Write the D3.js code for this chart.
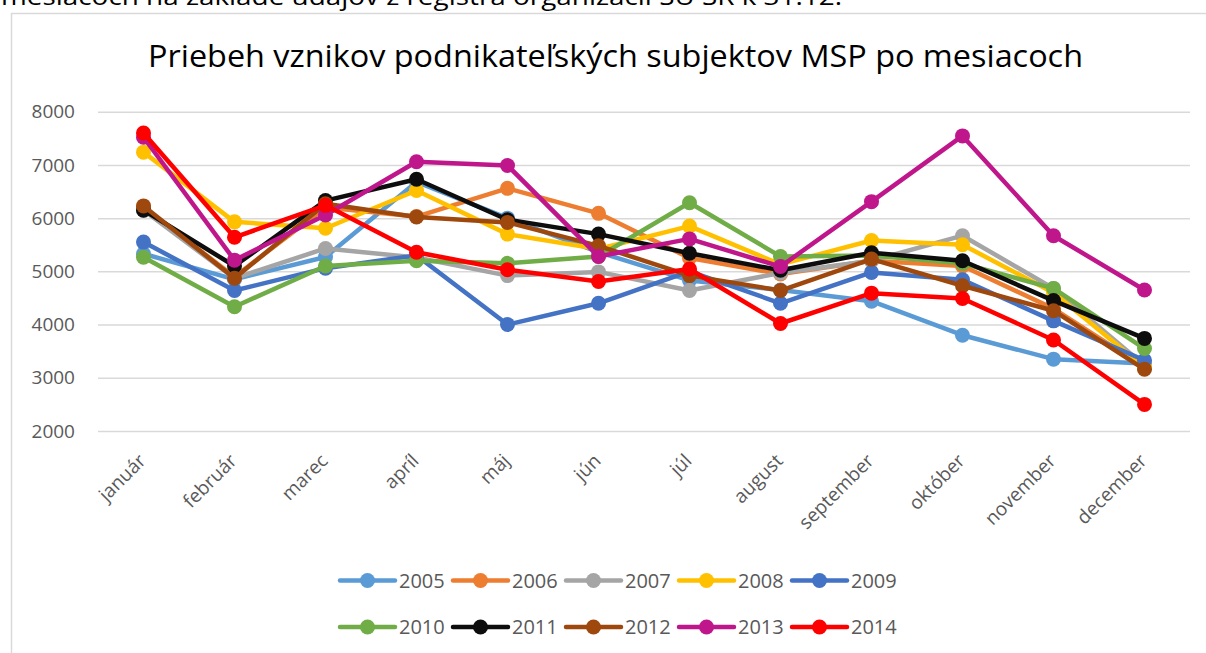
<!DOCTYPE html>
<html><head><meta charset="utf-8">
<script src="https://cdn.jsdelivr.net/npm/d3@7"></script>
<style>
html,body{margin:0;padding:0;background:#fff;overflow:hidden;}
svg{display:block;}
</style></head>
<body>
<svg id="chart" width="1206" height="653"></svg>
<script>
const months = ["január","február","marec","apríl","máj","jún","júl","august","september","október","november","december"];
const years = ["2005","2006","2007","2008","2009","2010","2011","2012","2013","2014"];
const yTicks = [2000,3000,4000,5000,6000,7000,8000];
const colors = ["#5B9BD5","#ED7D31","#A5A5A5","#FFC000","#4472C4","#70AD47","#0D0D0D","#9E480E","#C0168C","#FF0000"];

const s2005 = [5330,4850,5270,6680,6000,5360,4830,4650,4440,3800,3350,3270];
const s2006 = [6200,4900,6200,6030,6560,6090,5250,4950,5200,5100,4300,3200];
const s2007 = [6150,4870,5430,5260,4920,4990,4640,4970,5200,5670,4680,3230];
const s2008 = [7240,5930,5810,6520,5700,5420,5850,5130,5580,5500,4600,3200];
const s2009 = [5550,4640,5060,5300,4000,4400,5000,4400,4980,4840,4070,3330];
const s2010 = [5265,4336,5100,5200,5150,5280,6290,5280,5300,5150,4680,3550];
const s2011 = [6150,5100,6330,6730,5970,5700,5340,5020,5350,5200,4450,3740];
const s2012 = [6230,4870,6270,6020,5920,5480,4920,4640,5230,4730,4260,3160];
const s2013 = [7520,5210,6060,7060,6990,5280,5610,5090,6310,7545,5670,4650];
const s2014 = [7600,5640,6240,5360,5030,4810,5045,4020,4590,4490,3710,2500];
const seriesValues = [s2005,s2006,s2007,s2008,s2009,s2010,s2011,s2012,s2013,s2014];

const title = "Priebeh vznikov podnikateľských subjektov MSP po mesiacoch";
const aboveText = "mesiacoch na základe údajov z registra organizácií ŠÚ SR k 31.12.";

const svg = d3.select("#chart");
const font = "'Open Sans', 'DejaVu Sans', sans-serif";

svg.append("text").attr("x",1).attr("y",5).attr("font-family",font).attr("font-size",24)
  .attr("fill","#000").attr("textLength",841).attr("lengthAdjust","spacingAndGlyphs").text(aboveText);

svg.append("rect").attr("x",11.5).attr("y",13.5).attr("width",1200).attr("height",700)
  .attr("fill","#fff").attr("stroke","#D9D9D9").attr("stroke-width",1.5);

const plotL = 98, plotR = 1190, plotT = 111.7, plotB = 431;
const x = d3.scalePoint().domain(months).range([plotL,plotR]).padding(0.5);
const y = d3.scaleLinear().domain([2000,8000]).range([plotB,plotT]);

svg.append("text").attr("x",615.5).attr("y",67).attr("text-anchor","middle")
  .attr("font-family",font).attr("font-size",31).attr("fill","#000")
  .attr("textLength",935).attr("lengthAdjust","spacingAndGlyphs").text(title);

const gy = svg.append("g").attr("transform",`translate(${plotL},0)`)
  .call(d3.axisLeft(y).tickValues(yTicks).tickSize(-(plotR-plotL)).tickPadding(23).tickFormat(d3.format("d")));
gy.select(".domain").remove();
gy.selectAll(".tick line").attr("stroke","#D9D9D9").attr("stroke-width",1.5);
gy.selectAll(".tick text").attr("font-family",font).attr("font-size",19).attr("fill","#595959");

const gx = svg.append("g").attr("transform",`translate(0,${plotB})`)
  .call(d3.axisBottom(x).tickSize(0));
gx.select(".domain").remove();
gx.selectAll(".tick text").attr("font-family",font).attr("font-size",19).attr("fill","#595959")
  .attr("x",null).attr("y",null).attr("dy",null)
  .attr("text-anchor","end").attr("transform","translate(3,31) rotate(-45)");

const line = d3.line().x((d,i)=>x(months[i])).y(d=>y(d));
seriesValues.forEach((vals,k)=>{
  const g = svg.append("g");
  g.append("path").datum(vals).attr("d",line).attr("fill","none")
    .attr("stroke",colors[k]).attr("stroke-width",4.5).attr("stroke-linejoin","round");
  g.selectAll("circle").data(vals).join("circle")
    .attr("cx",(d,i)=>x(months[i])).attr("cy",d=>y(d)).attr("r",7.5)
    .attr("fill",colors[k]);
});

years.forEach((yr,k)=>{
  const row = Math.floor(k/5), col = k%5;
  const x0 = 340 + col*113, yy = 580.5 + row*46.5;
  const g = svg.append("g");
  g.append("line").attr("x1",x0).attr("x2",x0+55).attr("y1",yy).attr("y2",yy)
    .attr("stroke",colors[k]).attr("stroke-width",4.5).attr("stroke-linecap","round");
  g.append("circle").attr("cx",x0+27.5).attr("cy",yy).attr("r",7.5).attr("fill",colors[k]);
  g.append("text").attr("x",x0+59).attr("y",yy).attr("dy","0.35em")
    .attr("font-family",font).attr("font-size",20).attr("fill","#595959").text(yr);
});
</script>
</body></html>
